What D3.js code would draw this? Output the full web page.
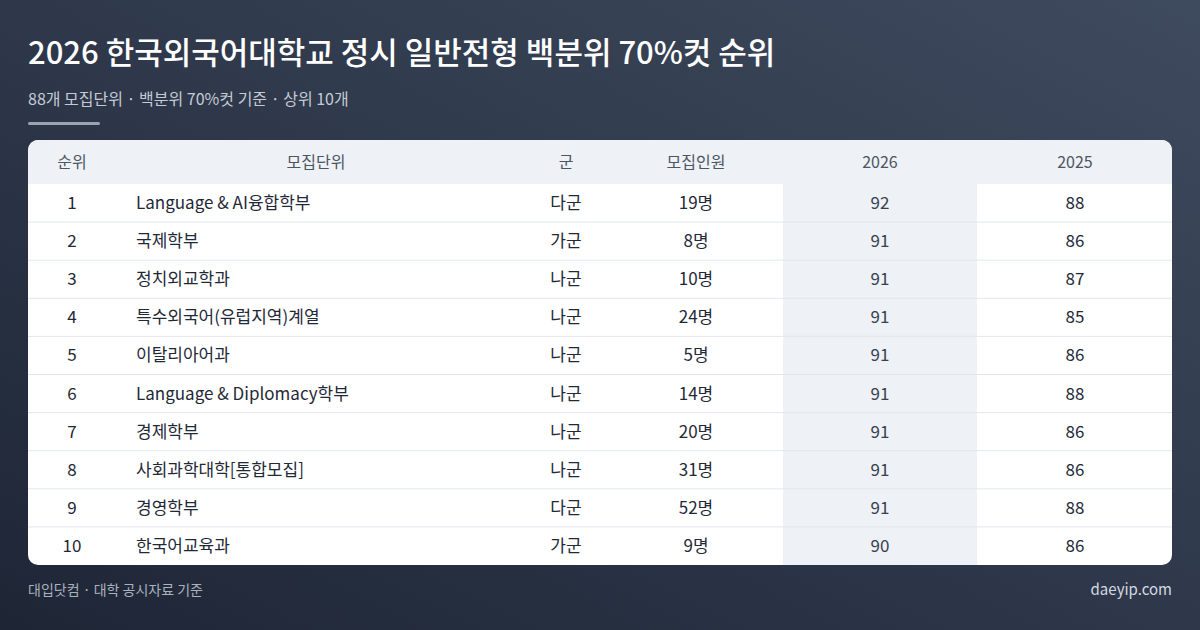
<!DOCTYPE html>
<html><head><meta charset="utf-8">
<script src="https://cdn.jsdelivr.net/npm/d3@7"></script>
<style>body{margin:0;}svg{display:block;font-family:"Noto Sans CJK KR","Noto Sans",sans-serif;}</style>
</head><body>
<script>
const ranks = [1, 2, 3, 4, 5, 6, 7, 8, 9, 10];
const units = ["Language & AI융합학부", "국제학부", "정치외교학과", "특수외국어(유럽지역)계열", "이탈리아어과",
  "Language & Diplomacy학부", "경제학부", "사회과학대학[통합모집]", "경영학부", "한국어교육과"];
const groups = ["다군", "가군", "나군", "나군", "나군", "나군", "나군", "나군", "다군", "가군"];
const quotas = [19, 8, 10, 24, 5, 14, 20, 31, 52, 9];
const score2026 = [92, 91, 91, 91, 91, 91, 91, 91, 91, 90];
const score2025 = [88, 86, 87, 85, 86, 88, 86, 86, 88, 86];
const headers = ["순위", "모집단위", "군", "모집인원", "2026", "2025"];

const W = 1200, H = 630;
const svg = d3.select("body").append("svg").attr("width", W).attr("height", H);
const defs = svg.append("defs");
const g = defs.append("linearGradient").attr("id", "bg").attr("x1", 0).attr("y1", 1).attr("x2", 1).attr("y2", 0);
g.append("stop").attr("offset", 0).attr("stop-color", "#1e2636");
g.append("stop").attr("offset", 1).attr("stop-color", "#3e4a5e");
svg.append("rect").attr("width", W).attr("height", H).attr("fill", "url(#bg)");

svg.append("text").attr("x", 28).attr("y", 64).attr("fill", "#fff").attr("font-size", 31).attr("font-weight", 500)
  .text("2026 한국외국어대학교 정시 일반전형 백분위 70%컷 순위");
svg.append("text").attr("x", 28).attr("y", 105).attr("fill", "#c5cbd5").attr("font-size", 16)
  .text("88개 모집단위 · 백분위 70%컷 기준 · 상위 10개");
svg.append("rect").attr("x", 28).attr("y", 122).attr("width", 72).attr("height", 3).attr("rx", 1.5).attr("fill", "#9aa3b0");

const cardL = 28, cardR = 1172, cardT = 140, headH = 44, cardB = 565;
defs.append("clipPath").attr("id", "card").append("rect")
  .attr("x", cardL).attr("y", cardT).attr("width", cardR - cardL).attr("height", cardB - cardT).attr("rx", 10);
const card = svg.append("g").attr("clip-path", "url(#card)");
card.append("rect").attr("x", cardL).attr("y", cardT).attr("width", cardR - cardL).attr("height", cardB - cardT).attr("fill", "#fff");
card.append("rect").attr("x", cardL).attr("y", cardT).attr("width", cardR - cardL).attr("height", headH).attr("fill", "#eef1f5");

const y = d3.scaleBand().domain(ranks).range([cardT + headH, cardB]);
const colX = [72, 316, 566, 696, 880, 1075];
card.append("rect").attr("x", 783).attr("y", cardT + headH).attr("width", 194).attr("height", cardB - cardT - headH).attr("fill", "#eef1f5");

card.selectAll(".sep").data(ranks.slice(1)).join("line")
  .attr("x1", cardL).attr("x2", cardR).attr("y1", d => y(d)).attr("y2", d => y(d))
  .attr("stroke", "#e3e7ed").attr("stroke-width", 1);

svg.selectAll(".head").data(headers).join("text")
  .attr("x", (d, i) => colX[i]).attr("y", cardT + headH / 2 + 6).attr("text-anchor", "middle")
  .attr("font-size", 16).attr("fill", "#4b5563").text(d => d);

const rows = svg.selectAll(".row").data(ranks).join("g").attr("transform", d => `translate(0,${y(d) + y.bandwidth() / 2 + 6})`);
const cell = (x, anchor, fn, color) => rows.append("text").attr("x", x).attr("text-anchor", anchor)
  .attr("font-size", 17).attr("fill", color || "#1f2937").text(fn);
cell(colX[0], "middle", d => d);
cell(136, "start", (d, i) => units[i]);
cell(colX[2], "middle", (d, i) => groups[i]);
cell(colX[3], "middle", (d, i) => quotas[i] + "명");
cell(colX[4], "middle", (d, i) => score2026[i], "#374151");
cell(colX[5], "middle", (d, i) => score2025[i]);

svg.append("text").attr("x", 28).attr("y", 595).attr("fill", "#aab2bf").attr("font-size", 14).text("대입닷컴 · 대학 공시자료 기준");
svg.append("text").attr("x", 1172).attr("y", 595).attr("text-anchor", "end").attr("fill", "#d5dae2").attr("font-size", 15).text("daeyip.com");
</script>
</body></html>
